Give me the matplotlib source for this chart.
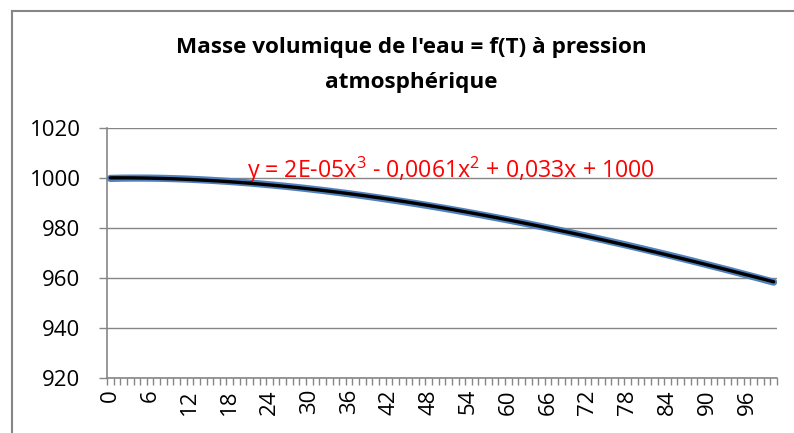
import numpy as np
import matplotlib
matplotlib.use('Agg')
import matplotlib.pyplot as plt
from matplotlib.lines import Line2D

# density of water (kg/m3) at atmospheric pressure, 0..100 degC
temperature = list(range(0, 101))
density = [
    999.84, 999.90, 999.94, 999.96, 999.97, 999.96, 999.94, 999.90, 999.85, 999.78,
    999.70, 999.61, 999.50, 999.38, 999.24, 999.10, 998.94, 998.77, 998.60, 998.41,
    998.21, 998.00, 997.77, 997.54, 997.30, 997.05, 996.79, 996.52, 996.24, 995.95,
    995.65, 995.34, 995.03, 994.70, 994.37, 994.03, 993.68, 993.33, 992.97, 992.59,
    992.22, 991.83, 991.44, 991.04, 990.63, 990.21, 989.79, 989.36, 988.93, 988.48,
    988.04, 987.58, 987.12, 986.65, 986.17, 985.69, 985.21, 984.71, 984.21, 983.71,
    983.20, 982.68, 982.16, 981.63, 981.09, 980.55, 980.00, 979.45, 978.90, 978.33,
    977.76, 977.19, 976.61, 976.03, 975.44, 974.84, 974.24, 973.64, 973.03, 972.41,
    971.79, 971.16, 970.53, 969.90, 969.26, 968.61, 967.96, 967.30, 966.64, 965.98,
    965.31, 964.63, 963.95, 963.27, 962.58, 961.88, 961.18, 960.48, 959.77, 959.05,
    958.35,
]
y_ticks = [920, 940, 960, 980, 1000, 1020]
x_labels = list(range(0, 101, 6))

title = "Masse volumique de l'eau = f(T) à pression\natmosphérique"
equation = "y = 2E-05x$^3$ - 0,0061x$^2$ + 0,033x + 1000"

plt.rcParams['font.family'] = ['Open Sans', 'DejaVu Sans']
plt.rcParams['mathtext.fontset'] = 'custom'
plt.rcParams['mathtext.rm'] = 'Open Sans'
plt.rcParams['mathtext.it'] = 'Open Sans'

grey = '#868686'

fig = plt.figure(figsize=(7.94, 4.33), dpi=100)
ax = fig.add_axes([107 / 794, 1 - 378 / 433, 670 / 794, 250 / 433])

# data series + polynomial trendline (order 3)
ax.plot(temperature, density, color='#4f81bd', lw=5.2, solid_capstyle='round', zorder=3)
coef = np.polyfit(temperature, density, 3)
trend = np.polyval(coef, temperature)
ax.plot(temperature, trend, color='black', lw=2.4, solid_capstyle='round', zorder=4)

ax.set_xlim(-0.5, 100.5)
ax.set_ylim(920, 1020)
ax.set_yticks(y_ticks)
ax.set_yticklabels([str(v) for v in y_ticks], fontsize=16)
ax.set_xticks(x_labels)
ax.set_xticklabels([str(v) for v in x_labels], rotation=90, fontsize=16)
ax.set_xticks(np.arange(-0.5, 101, 1), minor=True)
ax.tick_params(axis='x', which='major', length=0, pad=8)
ax.tick_params(axis='x', which='minor', length=5, color=grey, width=1, direction='out')
ax.tick_params(axis='y', which='major', length=6, color=grey, width=1, pad=13)

ax.grid(axis='y', color=grey, lw=1, zorder=0)
for side in ['top', 'right']:
    ax.spines[side].set_visible(False)
for side in ['left', 'bottom']:
    ax.spines[side].set_color(grey)
    ax.spines[side].set_linewidth(1.2)

ax.text(0.513, 0.832, equation, transform=ax.transAxes, ha='center', va='center',
        color='red', fontsize=16.7)

fig.text(411 / 794, 1 - 65 / 433, title, ha='center', va='center',
         fontsize=16.2, fontweight='bold', linespacing=1.85)

# chart border (left and top visible)
fig.add_artist(Line2D([11.5 / 794, 11.5 / 794], [0, 1 - 10.5 / 433], transform=fig.transFigure, color=grey, lw=1.5))
fig.add_artist(Line2D([11.5 / 794, 1], [1 - 10.5 / 433, 1 - 10.5 / 433], transform=fig.transFigure, color=grey, lw=1.5))

fig.savefig('out.png', dpi=100)
